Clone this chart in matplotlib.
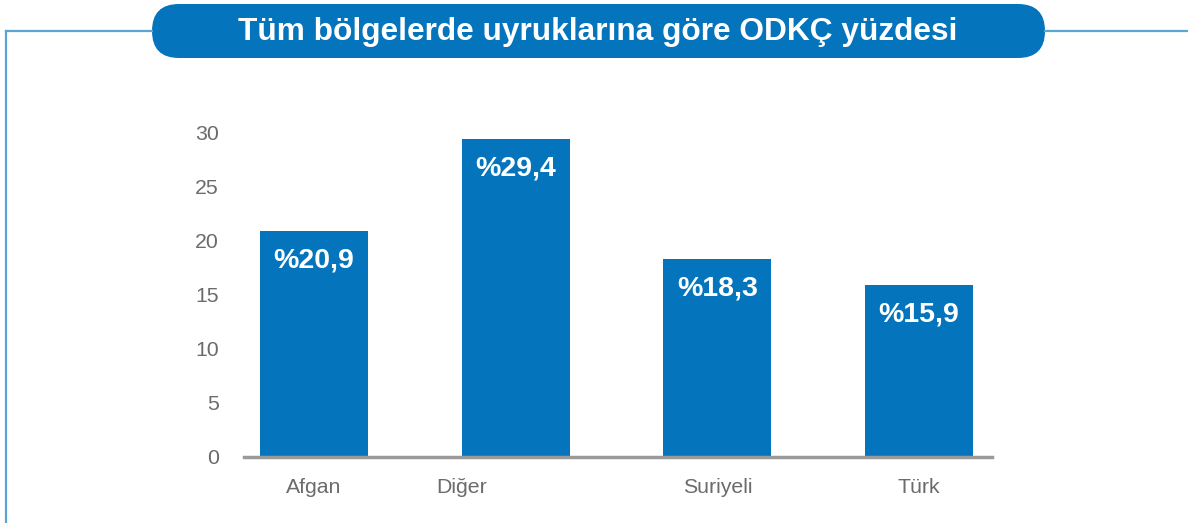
import matplotlib.pyplot as plt
from matplotlib.patches import FancyBboxPatch
from matplotlib.lines import Line2D
import matplotlib.transforms as mtrans

# data
categories = ['Afgan', 'Diğer', 'Suriyeli', 'Türk']
values = [20.9, 29.4, 18.3, 15.9]
value_labels = ['%20,9', '%29,4', '%18,3', '%15,9']
yticks = [0, 5, 10, 15, 20, 25, 30]
title = 'Tüm bölgelerde uyruklarına göre ODKÇ yüzdesi'

BLUE = '#0474BC'
FRAME = '#5BA4D4'
GRAY_TXT = '#6b6b6b'

W, H = 1188, 523
plt.rcParams['font.family'] = ['Liberation Sans', 'DejaVu Sans']
fig = plt.figure(figsize=(W / 100, H / 100), dpi=100)

# background layer in pixel coords: frame lines + title pill
bg = fig.add_axes([0, 0, 1, 1])
bg.set_xlim(0, W)
bg.set_ylim(H, 0)
bg.axis('off')
bg.add_line(Line2D([6, 152], [31, 31], color=FRAME, lw=1.6))
bg.add_line(Line2D([1045, W], [31, 31], color=FRAME, lw=1.6))
bg.add_line(Line2D([6, 6], [31, H], color=FRAME, lw=1.6))
pill = FancyBboxPatch((152, 4), 1045 - 152, 54,
                      boxstyle='round,pad=0,rounding_size=27',
                      fc=BLUE, ec='none')
bg.add_patch(pill)
bg.text(598, 32, title, color='white', fontsize=22.8, fontweight='bold',
        ha='center', va='center')

# chart
left, right, top, bottom = 244, 992, 133, 457
ax = fig.add_axes([left / W, 1 - bottom / H, (right - left) / W, (bottom - top) / H])
x = list(range(len(categories)))
bars = ax.bar(x, values, width=0.535, color=BLUE, zorder=2)
ax.set_xlim(-0.347, 3.362)
ax.set_ylim(0, 30)
ax.set_yticks(yticks)
ax.set_xticks(x)
ax.set_xticklabels(categories)
for s in ['top', 'right', 'left']:
    ax.spines[s].set_visible(False)
ax.spines['bottom'].set_color('#9a9a9a')
ax.spines['bottom'].set_linewidth(2.5)
ax.tick_params(axis='both', length=0, labelsize=15.3, labelcolor=GRAY_TXT)
ax.tick_params(axis='y', pad=18)
ax.tick_params(axis='x', pad=15)
ax.patch.set_alpha(0)

# Diğer label sits at the bar's left edge in the original
lab = ax.get_xticklabels()[1]
lab.set_transform(lab.get_transform() + mtrans.ScaledTranslation(-54 / 100, 0, fig.dpi_scale_trans))

for xi, v, t in zip(x, values, value_labels):
    ax.annotate(t, (xi, v), xytext=(0, -29), textcoords='offset pixels',
                ha='center', va='center', color='white', fontsize=20.5, fontweight='bold')

fig.savefig('out.png', dpi=100)
